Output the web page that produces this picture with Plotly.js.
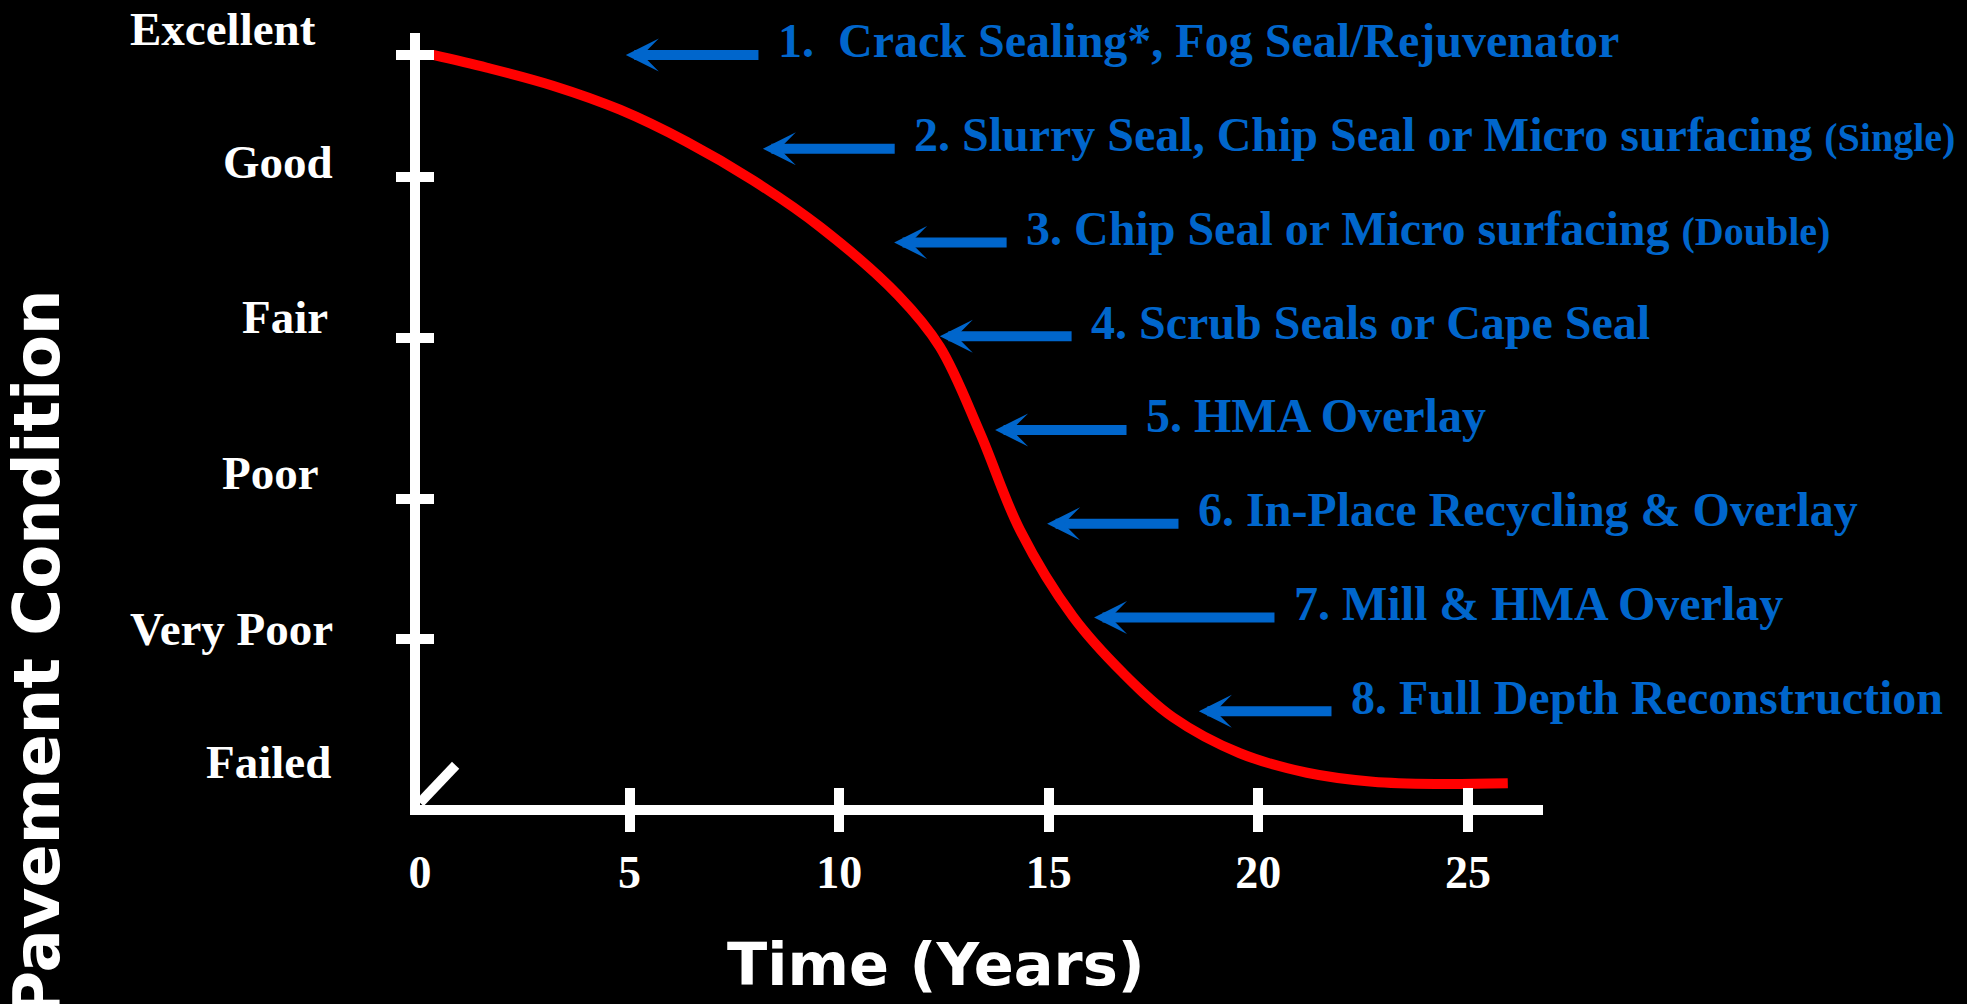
<!DOCTYPE html>
<html><head><meta charset="utf-8">
<script src="https://cdn.plot.ly/plotly-3.0.1.min.js"></script>
<style>html,body{margin:0;padding:0;background:#000;overflow:hidden;}</style>
</head><body><div id="chart" style="width:1967px;height:1004px;"></div>
<script>
// ---- data ----
const years = [0.31, 1.60, 3.17, 4.77, 6.37, 7.94, 9.54, 11.40, 12.40, 13.36, 14.31, 15.58, 16.77, 17.96, 19.56, 21.16, 22.73, 24.33, 25.95];
const condition = [100.0, 98.3, 95.9, 92.7, 88.4, 83.3, 77.1, 68.0, 61.1, 49.6, 36.7, 25.1, 17.6, 11.7, 6.9, 4.3, 3.1, 2.8, 2.9];

const conditionLabels = ['Excellent', 'Good', 'Fair', 'Poor', 'Very Poor', 'Failed'];
const conditionTicks = [100, 83.7, 62.3, 40.8, 22.1];

const yearTicks = [5, 10, 15, 20, 25];
const yearLabels = [0, 5, 10, 15, 20, 25];

const treatments = [
  '1.\u00a0 Crack Sealing*, Fog Seal/Rejuvenator',
  '2. Slurry Seal, Chip Seal or Micro surfacing <span style="font-size:40px">(Single)</span>',
  '3. Chip Seal or Micro surfacing <span style="font-size:40px">(Double)</span>',
  '4. Scrub Seals or Cape Seal',
  '5. HMA Overlay',
  '6. In-Place Recycling &amp; Overlay',
  '7. Mill &amp; HMA Overlay',
  '8. Full Depth Reconstruction'
];
const arrowLevel = [100, 87.5, 75, 62.5, 50, 37.5, 25, 12.5];
const arrowTip = [4.91, 8.18, 11.31, 12.40, 13.72, 14.96, 16.08, 18.58];
const arrowTail = [8.11, 11.36, 14.03, 15.58, 16.89, 18.13, 20.42, 21.78];

const breakMarkX = [0, 0.85];
const breakMarkY = [0.3, 5.3];

// ---- layout positions (paper units) of the condition labels ----
const labelPosX = [-0.0908, -0.0757, -0.0801, -0.0882, -0.0757, -0.0775];
const labelPosY = [1.0052, 0.8323, 0.6315, 0.4301, 0.2286, 0.0563];

// ---- styles ----
const WHITE = '#ffffff', RED = '#ff0000', BLUE = '#0066cc';
const SERIF = 'Liberation Serif, Times New Roman, serif';
const SANS = 'DejaVu Sans, Verdana, sans-serif';
const XR = [0, 26.79], YR = [0, 102.93];

const traces = [
  {x: years, y: condition, type: 'scatter', mode: 'lines', xaxis: 'x', yaxis: 'y',
   line: {color: RED, width: 10, shape: 'spline', smoothing: 1}, hoverinfo: 'skip', showlegend: false},
  {x: breakMarkX, y: breakMarkY, type: 'scatter', mode: 'lines', xaxis: 'x', yaxis: 'y',
   line: {color: WHITE, width: 10}, hoverinfo: 'skip', showlegend: false},
  {x: [], y: [], type: 'scatter', xaxis: 'x2', yaxis: 'y', showlegend: false, hoverinfo: 'skip'},
  {x: [], y: [], type: 'scatter', xaxis: 'x3', yaxis: 'y', showlegend: false, hoverinfo: 'skip'},
  {x: [], y: [], type: 'scatter', xaxis: 'x', yaxis: 'y2', showlegend: false, hoverinfo: 'skip'}
];

const annotations = [];
conditionLabels.forEach((t, i) => annotations.push({
  text: t, xref: 'paper', yref: 'paper', x: labelPosX[i], y: labelPosY[i],
  xanchor: 'right', yanchor: 'middle', showarrow: false,
  font: {family: SERIF, size: 47, color: WHITE, weight: 'bold'}
}));
treatments.forEach((t, i) => {
  annotations.push({
    text: '', xref: 'x', yref: 'y', x: arrowTip[i], y: arrowLevel[i],
    axref: 'x', ayref: 'y', ax: arrowTail[i], ay: arrowLevel[i],
    showarrow: true, arrowhead: 3, arrowsize: 0.55, arrowwidth: 10, arrowcolor: BLUE,
    font: {size: 1}
  });
  annotations.push({
    text: t, xref: 'x', yref: 'y', x: arrowTail[i], y: arrowLevel[i],
    xanchor: 'left', yanchor: 'middle', xshift: 16, yshift: 14, showarrow: false,
    font: {family: SERIF, size: 48, color: BLUE, weight: 'bold'}
  });
});
annotations.push({
  text: 'Time (Years)', xref: 'paper', yref: 'paper', x: 0.4595, y: -0.206,
  xanchor: 'center', yanchor: 'middle', showarrow: false,
  font: {family: SANS, size: 59, color: WHITE, weight: 'bold'}
});
annotations.push({
  text: 'Pavement Condition', xref: 'paper', yref: 'paper', x: -0.341, y: 0.196,
  xanchor: 'center', yanchor: 'middle', textangle: -90, showarrow: false,
  font: {family: SANS, size: 64, color: WHITE, weight: 'bold'}
});

const lineAxis = {showline: true, linecolor: WHITE, linewidth: 10, showgrid: false, zeroline: false, fixedrange: true};

const layout = {
  width: 1967, height: 1004,
  paper_bgcolor: '#000000', plot_bgcolor: '#000000',
  margin: {l: 420, r: 424, t: 33, b: 199, pad: 0},
  showlegend: false,
  xaxis: Object.assign({}, lineAxis, {range: XR, tickmode: 'array', tickvals: yearLabels, ticktext: yearLabels.map(String),
    ticks: '', ticklabelstandoff: 18, tickfont: {family: SERIF, size: 46, color: WHITE, weight: 'bold'}, anchor: 'y'}),
  xaxis2: Object.assign({}, lineAxis, {range: XR, overlaying: 'x', anchor: 'y', side: 'bottom', tickmode: 'array', tickvals: yearTicks,
    ticks: 'outside', ticklen: 17, tickwidth: 10, tickcolor: WHITE, showticklabels: false}),
  xaxis3: Object.assign({}, lineAxis, {range: XR, overlaying: 'x', anchor: 'y', side: 'bottom', tickmode: 'array', tickvals: yearTicks,
    ticks: 'inside', ticklen: 17, tickwidth: 10, tickcolor: WHITE, showticklabels: false}),
  yaxis: Object.assign({}, lineAxis, {range: YR, tickmode: 'array', tickvals: conditionTicks,
    ticks: 'outside', ticklen: 14, tickwidth: 10, tickcolor: WHITE, showticklabels: false, anchor: 'x'}),
  yaxis2: Object.assign({}, lineAxis, {range: YR, overlaying: 'y', anchor: 'x', side: 'left', tickmode: 'array', tickvals: conditionTicks,
    ticks: 'inside', ticklen: 14, tickwidth: 10, tickcolor: WHITE, showticklabels: false}),
  annotations: annotations
};

Plotly.newPlot('chart', traces, layout, {staticPlot: true, displayModeBar: false});
</script></body></html>
